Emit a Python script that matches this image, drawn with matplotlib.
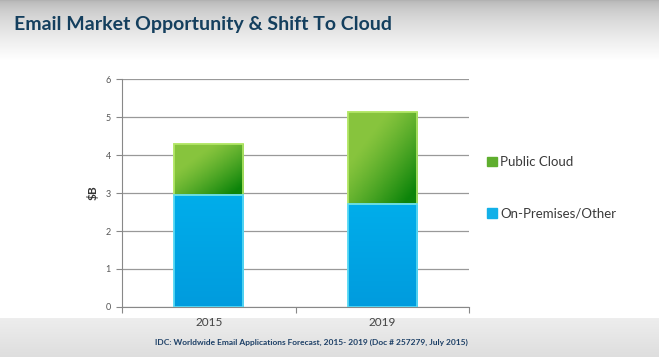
import numpy as np
import matplotlib
matplotlib.use("Agg")
import matplotlib.pyplot as plt
from matplotlib.patches import Rectangle

years = ["2015", "2019"]
on_prem = [2.95, 2.72]
public_cloud = [1.33, 2.42]
y_ticks = [0, 1, 2, 3, 4, 5, 6]

fig = plt.figure(figsize=(6.59, 3.57), dpi=100)

# slide background: grey fade at top, grey band at bottom
bg = fig.add_axes([0, 0, 1, 1], zorder=-10)
bg.axis("off")
h = 357
top = np.arange(h)
col = np.where(top < 60, 0.70 + 0.30 * (top / 60.0) ** 0.6, 1.0)
band = top >= 318
col[band] = 0.93 - 0.06 * (top[band] - 318) / 39.0
img = np.repeat(col[:, None], 10, axis=1)
bg.imshow(np.dstack([img, img, img]), aspect="auto", extent=[0, 1, 0, 1])
bg.set_xlim(0, 1)
bg.set_ylim(0, 1)

fig.text(0.022, 0.93, "Email Market Opportunity & Shift To Cloud",
         fontsize=14, fontweight="bold", color="#143f5e", va="center",
         family="Lato")

ax = fig.add_axes([122 / 659, 1 - 307 / 357, (469 - 122) / 659, (307 - 79) / 357])
ax.patch.set_alpha(0)

x = np.arange(len(years))
width = 0.4
b1 = ax.bar(x, on_prem, width, color="#00a9e8", edgecolor="#5fdcf5",
            linewidth=1.2, label="On-Premises/Other", zorder=3)
b2 = ax.bar(x, public_cloud, width, bottom=on_prem, color="#6ab82e",
            edgecolor="#b5e86a", linewidth=1.2, label="Public Cloud", zorder=3)

# gradient fills clipped to each bar (light top-left -> dark bottom-right)
gx, gy = np.meshgrid(np.linspace(0, 1, 60), np.linspace(0, 1, 60))
g = np.clip(0.8 * gx + 0.8 * gy - 0.45, 0, 1) ** 1.2
light = np.array([0.53, 0.77, 0.24])
dark = np.array([0.05, 0.52, 0.04])
green_img = light[None, None, :] * (1 - g[..., None]) + dark[None, None, :] * g[..., None]
gb = np.linspace(0, 1, 60)[:, None] * np.ones((1, 60))
blight = np.array([0.0, 0.68, 0.92])
bdark = np.array([0.0, 0.61, 0.87])
blue_img = blight[None, None, :] * (1 - gb[..., None]) + bdark[None, None, :] * gb[..., None]
for bars, im in [(b2, green_img), (b1, blue_img)]:
    for p in bars:
        x0, y0 = p.get_x(), p.get_y()
        w, hh = p.get_width(), p.get_height()
        art = ax.imshow(im, extent=[x0, x0 + w, y0, y0 + hh], origin="upper",
                        aspect="auto", zorder=3.5)
        art.set_clip_path(p)
    for p in bars:
        ax.add_patch(Rectangle((p.get_x(), p.get_y()), p.get_width(), p.get_height(),
                               fill=False, edgecolor=p.get_edgecolor(),
                               linewidth=1.2, zorder=4))

ax.set_xlim(-0.5, 1.5)
ax.set_ylim(0, 6)
ax.set_yticks(y_ticks)
ax.set_yticklabels([str(t) for t in y_ticks], fontsize=6.5, color="#555555",
                   family="Lato")
ax.set_xticks([-0.5, 0.5, 1.5])
ax.set_xticklabels([])
ax.set_xticks(x, minor=True)
ax.set_xticklabels(years, minor=True, fontsize=8.5, color="#444444", family="Lato")
ax.tick_params(axis="x", which="minor", length=0, pad=7)
ax.tick_params(axis="x", which="major", length=4, color="#888888", direction="out")
ax.tick_params(axis="y", length=4, color="#888888", pad=4)
ax.grid(axis="y", color="#999999", linewidth=0.9, zorder=0)
ax.set_axisbelow(True)
for s in ["top", "right"]:
    ax.spines[s].set_visible(False)
ax.spines["left"].set_color("#888888")
ax.spines["bottom"].set_color("#888888")
ax.set_ylabel("$B", fontsize=8.5, fontweight="bold", color="#333333", labelpad=5,
              family="Lato")

leg = fig.legend([Rectangle((0, 0), 1, 1, color="#5fae2e"),
                  Rectangle((0, 0), 1, 1, color="#12b0e8")],
                 ["Public Cloud", "On-Premises/Other"],
                 loc="center left", bbox_to_anchor=(0.7215, 0.474),
                 frameon=False, labelspacing=3.0,
                 prop={"family": "Lato", "size": 9.5},
                 handlelength=0.7, handleheight=0.7, handletextpad=0.25,
                 labelcolor="#3a3a3a")

fig.text(0.472, 0.042,
         "IDC: Worldwide Email Applications Forecast, 2015- 2019 (Doc # 257279, July 2015)",
         fontsize=6.0, fontweight="bold", color="#1c3f66", ha="center", va="center",
         family="Lato")

fig.savefig("out.png", dpi=100)
